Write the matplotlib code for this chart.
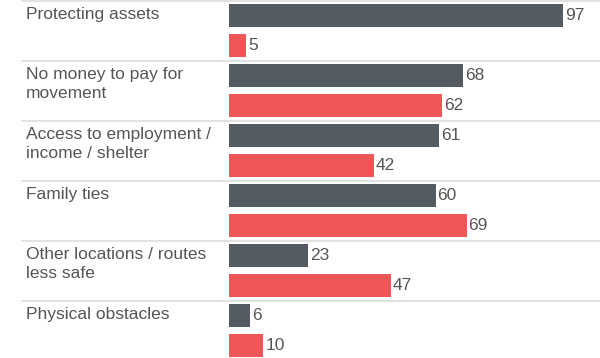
import matplotlib.pyplot as plt
import matplotlib.transforms as mtransforms
import numpy as np

plt.rcParams['font.family'] = ['Liberation Sans', 'DejaVu Sans']

# reasons, top to bottom
reasons = ['Protecting assets', 'No money to pay for\nmovement',
           'Access to employment /\nincome / shelter', 'Family ties',
           'Other locations / routes\nless safe', 'Physical obstacles']
dark_vals = [97, 68, 61, 60, 23, 6]
red_vals = [5, 62, 42, 69, 47, 10]

dark_col = '#545b63'
red_col = '#ee5658'
txt_col = '#555555'

W, H = 600, 358
fig = plt.figure(figsize=(W / 100, H / 100), dpi=100)
x0 = 229
ax = fig.add_axes([x0 / W, 0, (W - x0) / W, 1])
px = 97 / (563 - x0)  # data units per pixel
ax.set_xlim(0, (W - x0) * px)
ax.set_ylim(H / 60, 0)
ax.axis('off')

g = np.arange(len(reasons))
bh = 23 / 60
ax.barh(g + 15.5 / 60, dark_vals, height=bh, color=dark_col)
ax.barh(g + 45.5 / 60, red_vals, height=bh, color=red_col)

fs = 12.5
for i in g:
    ax.text(dark_vals[i] + 2 * px, i + 16 / 60, str(dark_vals[i]),
            va='center', ha='left', fontsize=fs, color=txt_col)
    ax.text(red_vals[i] + 2 * px, i + 46 / 60, str(red_vals[i]),
            va='center', ha='left', fontsize=fs, color=txt_col)

trans = mtransforms.blended_transform_factory(fig.transFigure, ax.transData)
for i in g:
    ax.plot([22 / W, 1], [i + 1 / 60, i + 1 / 60], transform=trans,
            color='#dddddd', lw=1.2, clip_on=False)
    ax.text(26 / W, i + 7 / 60, reasons[i], transform=trans, va='top',
            ha='left', fontsize=fs, color=txt_col, linespacing=1.3)

fig.savefig('out.png', dpi=100)
